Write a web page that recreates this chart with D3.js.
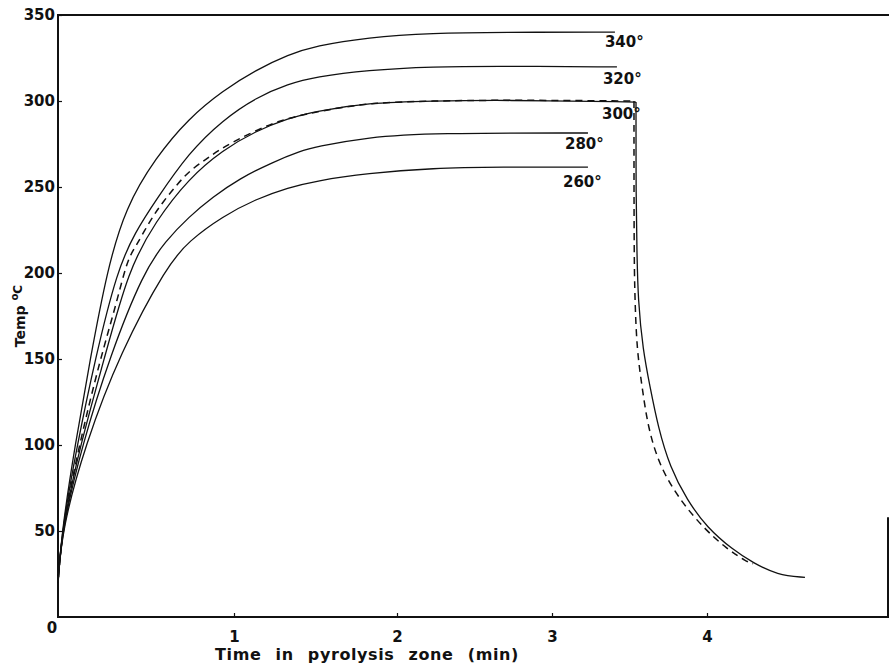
<!DOCTYPE html>
<html lang="en">
<head>
<meta charset="UTF-8">
<title>Temp in pyrolysis zone</title>
<script src="https://d3js.org/d3.v7.min.js"></script>
<style>
  body { margin: 0; background: #fff; }
  svg { display: block; background: #fff; }
  text { font-family: 'DejaVu Sans', sans-serif; font-weight: bold; fill: #111; }
  .tick text { font-size: 15px; }
  .tick line { stroke: #111; stroke-width: 1.2; }
  .frame { stroke: #111; stroke-width: 2; fill: none; }
  .curve { fill: none; stroke: #111; stroke-width: 1.3; }
  .dashed { stroke-dasharray: 7 5; stroke-width: 1.5; }
  .label { font-size: 15px; }
  .title { font-size: 16px; letter-spacing: 0.6px; word-spacing: 8px; }
</style>
</head>
<body>
<svg width="889" height="665"></svg>
<script>
// set temperatures of the runs (labels at the end of each curve)
const setTemps = [340, 320, 300, 280, 260];
const tempTicks = [50, 100, 150, 200, 250, 300, 350];
const timeTicks = [1, 2, 3, 4];

// heating curves: [time (min), temp (C)]
const heat340 = [[0,20],[0.023,51],[0.097,100],[0.183,150],[0.28,202],[0.383,238],[0.554,267],[0.743,290],
  [0.937,306],[1.134,318],[1.335,327],[1.5,332],[1.817,337],[2.232,339.5],[2.665,340],[3.406,340]];
const heat320 = [[0,20],[0.023,51],[0.109,100],[0.211,150],[0.337,202],[0.44,224],[0.554,242],[0.743,270],
  [0.937,289],[1.134,302],[1.335,310],[1.5,314],[1.817,318],[2.232,320],[2.665,320.3],[3.419,319.8]];
const heat300 = [[0,20],[0.023,51],[0.126,100],[0.263,150],[0.4,202],[0.554,230],[0.743,255],[0.937,271.5],
  [1.134,282.6],[1.335,290],[1.5,294],[1.817,299],[2.232,300],[2.665,300.6],[3.542,299.4]];
const heat280 = [[0,20],[0.023,51],[0.137,100],[0.297,152.3],[0.486,200.6],[0.611,218.6],[0.743,232.6],
  [0.88,244.2],[1.03,254.7],[1.238,264.5],[1.409,270.9],[1.5,273.3],[1.817,279],[2.232,281.4],[3.232,281.4]];
const heat260 = [[0,20],[0.023,51],[0.154,100],[0.354,154],[0.623,204.7],[0.743,218.6],[0.937,233],[1.134,243],
  [1.335,249.7],[1.5,253.5],[1.817,258],[2.232,261],[2.665,261.6],[3.232,261.6]];

// 300 run after leaving the zone
const cool300 = [[3.542,299.4],[3.542,243],[3.548,213],[3.555,184],[3.587,155],[3.632,134],[3.684,110.5],
  [3.761,87],[3.871,68],[4.0,52],[4.168,39],[4.297,31.5],[4.452,24.5],[4.632,23]];

// dashed (measured) curve
const dashHeat = [[0,20],[0.023,51],[0.12,100],[0.24,150],[0.326,180],[0.394,208],[0.44,215],[0.526,231],
  [0.594,241],[0.68,252],[0.754,260],[0.84,266],[0.914,271.5],[1.012,277],[1.116,282],[1.238,287],
  [1.335,290],[1.5,293.6],[1.817,299],[2.232,300],[2.665,300.6],[3.529,300]];
const dashCool = [[3.529,300],[3.529,213],[3.535,184],[3.548,155],[3.581,134],[3.619,110],[3.697,87],
  [3.826,68],[3.974,52],[4.129,39.5],[4.258,32],[4.297,31]];

const heatCurves = [heat340, heat320, heat300, heat280, heat260];

const W = 889, H = 665;
const svg = d3.select("svg");

// time axis is printed a bit unevenly, so map tick by tick
const x = d3.scaleLinear().domain([0, 1, 2, 3, 4]).range([58, 234, 397, 552, 707]);
const y = d3.scaleLinear().domain([0, 350]).range([617, 15]);
const right = W - 1;

// axes (ticks point inward)
const xAxis = svg.append("g").attr("transform", `translate(0,${y(0)})`)
  .call(d3.axisBottom(x).tickValues(timeTicks).tickFormat(d3.format("d"))
    .tickSizeInner(-4).tickSizeOuter(0).tickPadding(14));
const yAxis = svg.append("g").attr("transform", `translate(${x(0)},0)`)
  .call(d3.axisLeft(y).tickValues(tempTicks).tickSizeInner(-4).tickSizeOuter(0).tickPadding(3));
xAxis.select(".domain").remove();
yAxis.select(".domain").remove();
xAxis.selectAll(".tick text").attr("font-family", null).attr("font-size", null);
yAxis.selectAll(".tick text").attr("font-family", null).attr("font-size", null);

// frame
svg.append("path").attr("class", "frame")
  .attr("d", `M${right},${y(58)}V${y(0)}H${x(0)}V${y(350)}H${W}`);

svg.append("text").attr("x", x(0) - 6).attr("y", y(0) + 16)
  .attr("text-anchor", "middle").style("font-size", "15px").text("0");

// curves, smoothed through the read-off points
const line = d3.line().x(d => x(d[0])).y(d => y(d[1])).curve(d3.curveBasis);

svg.selectAll("path.heat").data(heatCurves).join("path")
  .attr("class", "curve heat").attr("d", line);
svg.append("path").attr("class", "curve").attr("d", line(cool300));
svg.append("path").attr("class", "curve dashed").attr("d", line(dashHeat));
svg.append("path").attr("class", "curve dashed").attr("d", line(dashCool));

// run labels next to the curve ends
const labelDx = [-10, -14, -34, -23, -25], labelDy = [15, 17, 17, 16, 20];
svg.selectAll("text.label").data(setTemps).join("text")
  .attr("class", "label")
  .attr("x", (d, i) => x(heatCurves[i][heatCurves[i].length - 1][0]) + labelDx[i])
  .attr("y", (d, i) => y(heatCurves[i][heatCurves[i].length - 1][1]) + labelDy[i])
  .text(d => d + "°");

// axis titles
svg.append("text").attr("class", "title")
  .attr("x", 367).attr("y", 660).attr("text-anchor", "middle")
  .text("Time in pyrolysis zone (min)");

const yt = svg.append("text")
  .attr("transform", "translate(25,316) rotate(-90)")
  .attr("text-anchor", "middle").style("font-size", "14px");
yt.append("tspan").text("Temp ");
yt.append("tspan").attr("dy", -7).style("font-size", "10px").text("o");
yt.append("tspan").attr("dy", 4).style("font-size", "12px").text("C");
</script>
</body>
</html>
